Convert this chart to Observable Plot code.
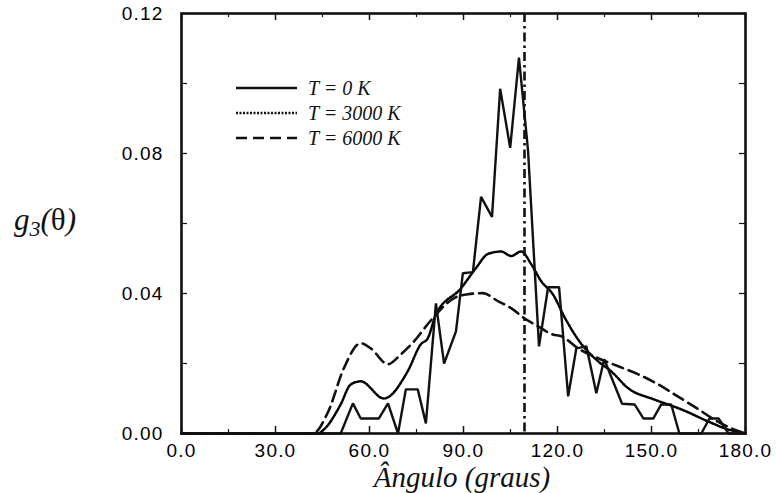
<!DOCTYPE html>
<html>
<head>
<meta charset="utf-8">
<script src="https://cdn.jsdelivr.net/npm/d3@7"></script>
<script src="https://cdn.jsdelivr.net/npm/@observablehq/plot@0.6"></script>
<style>
  html, body { margin: 0; padding: 0; background: #fff; }
</style>
</head>
<body>
<div id="chart"></div>
<script>
// T = 0 K (solid)
const theta0 = [0, 50.8, 54.7, 57.2, 63.0, 65.9, 69.1, 71.6, 75.4, 78.0, 81.2, 83.8, 87.6, 89.8, 93.0, 95.6, 99.1, 101.7, 104.9, 107.7, 110.6, 114.1, 117.0, 120.5, 123.4, 126.0, 129.2, 132.4, 134.9, 140.6, 144.6, 147.4, 150.6, 153.1, 156.3, 158.9, 165.9, 168.5, 171.4, 174.6, 180];
const g0     = [0, 0, 0.0086, 0.0043, 0.0043, 0.0086, 0, 0.0126, 0.0126, 0.0029, 0.0372, 0.0200, 0.0292, 0.0458, 0.0461, 0.0676, 0.0619, 0.0985, 0.0816, 0.1074, 0.0808, 0.0249, 0.0418, 0.0418, 0.0106, 0.0243, 0.0249, 0.0115, 0.0212, 0.0085, 0.0083, 0.0043, 0.0043, 0.0083, 0.0083, 0, 0, 0.0043, 0.0043, 0, 0];

// T = 3000 K (dotted)
const theta3000 = [0, 43.5, 45.4, 50.8, 54.0, 57.2, 64.6, 72.2, 76.4, 78.6, 81.2, 89.2, 94.0, 97.8, 102.0, 105.2, 108.4, 111.6, 114.8, 118.5, 122.5, 127.0, 133.0, 137.1, 142.6, 150.9, 159.5, 168.2, 174.6, 178.7, 180];
const g3000     = [0, 0, 0.0011, 0.0083, 0.0140, 0.0149, 0.0100, 0.0178, 0.0255, 0.0272, 0.0340, 0.0415, 0.0473, 0.0513, 0.0520, 0.0507, 0.0520, 0.0484, 0.0435, 0.0398, 0.0328, 0.0263, 0.0206, 0.0178, 0.0129, 0.0097, 0.0069, 0.0034, 0.0011, 0.0003, 0];

// T = 6000 K (dashed)
const theta6000 = [0, 41.9, 46.7, 51.8, 57.2, 60.4, 65.9, 70.0, 74.2, 79.3, 87.0, 91.4, 96.2, 101.0, 105.2, 109.3, 113.8, 118.5, 121.2, 126.6, 133.0, 139.4, 145.8, 152.2, 157.3, 165.0, 170.0, 176.5, 180];
const g6000     = [0, 0, 0.0060, 0.0186, 0.0258, 0.0243, 0.0198, 0.0226, 0.0263, 0.0320, 0.0387, 0.0398, 0.0401, 0.0378, 0.0358, 0.0330, 0.0306, 0.0283, 0.0278, 0.0243, 0.0215, 0.0192, 0.0169, 0.0140, 0.0112, 0.0069, 0.0040, 0.0011, 0];

const tetrahedral = [109.47];
const xTicks = [0, 30, 60, 90, 120, 150, 180];
const xMinor = [15, 45, 75, 105, 135, 165];
const yTicks = [0, 0.04, 0.08, 0.12];
const yMinor = [0.02, 0.06, 0.10];
const legendLabels = ["T = 0 K", "T = 3000 K", "T = 6000 K"];

const W = 777, H = 493;
const mL = 181, mR = 32, mT = 13, mB = 60;
const pw = W - mL - mR, ph = H - mT - mB;

const toRows = (xs, ys) => xs.map((x, i) => ({x, y: ys[i]}));
const s0 = toRows(theta0, g0), s3 = toRows(theta3000, g3000), s6 = toRows(theta6000, g6000);

const DOT = "2 1.5", DASH = "11 6";

const svg = Plot.plot({
  width: W, height: H,
  marginLeft: mL, marginRight: mR, marginTop: mT, marginBottom: mB,
  style: {fontFamily: "'Liberation Sans', Arial, sans-serif", fontSize: "19px", color: "#000", background: "#fff"},
  x: {domain: [0, 180]},
  y: {domain: [0, 0.12]},
  marks: [
    Plot.line(s3, {x: "x", y: "y", stroke: "#000", strokeWidth: 2.5, strokeDasharray: DOT, curve: "monotone-x"}),
    Plot.line(s6, {x: "x", y: "y", stroke: "#111", strokeWidth: 2.6, strokeDasharray: DASH, curve: "monotone-x"}),
    Plot.line(s0, {x: "x", y: "y", stroke: "#111", strokeWidth: 2.4, strokeLinejoin: "miter"}),
    Plot.ruleX(tetrahedral, {stroke: "#111", strokeWidth: 2.6, strokeDasharray: "9 4 2.5 4"}),
    // inward ticks
    Plot.tickX(xTicks, {x: d => d, insetTop: ph - 7, stroke: "#111", strokeWidth: 1.5}),
    Plot.tickX(xTicks, {x: d => d, insetBottom: ph - 7, stroke: "#111", strokeWidth: 1.5}),
    Plot.tickX(xMinor, {x: d => d, insetTop: ph - 4, stroke: "#111", strokeWidth: 1.2}),
    Plot.tickX(xMinor, {x: d => d, insetBottom: ph - 4, stroke: "#111", strokeWidth: 1.2}),
    Plot.tickY(yTicks, {y: d => d, insetRight: pw - 6, stroke: "#111", strokeWidth: 1.3}),
    Plot.tickY(yTicks, {y: d => d, insetLeft: pw - 6, stroke: "#111", strokeWidth: 1.3}),
    Plot.tickY(yMinor, {y: d => d, insetRight: pw - 6, stroke: "#111", strokeWidth: 1.2}),
    Plot.tickY(yMinor, {y: d => d, insetLeft: pw - 6, stroke: "#111", strokeWidth: 1.2}),
    Plot.axisX({ticks: xTicks, tickSize: 0, tickPadding: 10, tickFormat: d => d.toFixed(1), label: null, fontSize: 19}),
    Plot.axisY({ticks: yTicks, tickSize: 0, tickPadding: 18, tickFormat: d => d.toFixed(2), label: null, fontSize: 19}),
    Plot.frame({stroke: "#111", strokeWidth: 2.6})
  ]
});

document.getElementById("chart").appendChild(svg);

const root = d3.select(svg);
root.selectAll("g[aria-label='x-axis tick label'] text, g[aria-label='y-axis tick label'] text").style("letter-spacing", "1.2px");

const serif = "'Liberation Serif', 'Times New Roman', serif";

// Y axis title: g3(θ)
const yt = root.append("text")
  .attr("x", 14).attr("y", 230).attr("text-anchor", "start")
  .attr("font-family", serif)
  .attr("font-size", 31).attr("fill", "#111");
yt.append("tspan").attr("font-style", "italic").text("g");
yt.append("tspan").attr("font-style", "italic").attr("font-size", 22).attr("dy", 6).text("3");
yt.append("tspan").attr("font-style", "italic").attr("dy", -6).text("(");
yt.append("tspan").text("θ");
yt.append("tspan").attr("font-style", "italic").text(")");

// X axis title
root.append("text")
  .attr("x", 462).attr("y", 487).attr("text-anchor", "middle")
  .attr("font-family", serif)
  .attr("font-style", "italic").attr("font-size", 29).attr("fill", "#111")
  .text("Ângulo (graus)");

// Legend
const dashes = [null, DOT, DASH];
const widths = [2.4, 2.5, 2.6];
const ly = [88, 113, 138];
legendLabels.forEach((lab, i) => {
  const l = root.append("line")
    .attr("x1", 236).attr("x2", 297).attr("y1", ly[i]).attr("y2", ly[i])
    .attr("stroke", "#111").attr("stroke-width", widths[i]);
  if (dashes[i]) l.attr("stroke-dasharray", dashes[i]);
  root.append("text")
    .attr("x", 308).attr("y", ly[i] + 7).attr("text-anchor", "start")
    .attr("font-family", serif)
    .attr("font-style", "italic").attr("font-size", 20).attr("fill", "#111")
    .text(lab);
});
</script>
</body>
</html>
